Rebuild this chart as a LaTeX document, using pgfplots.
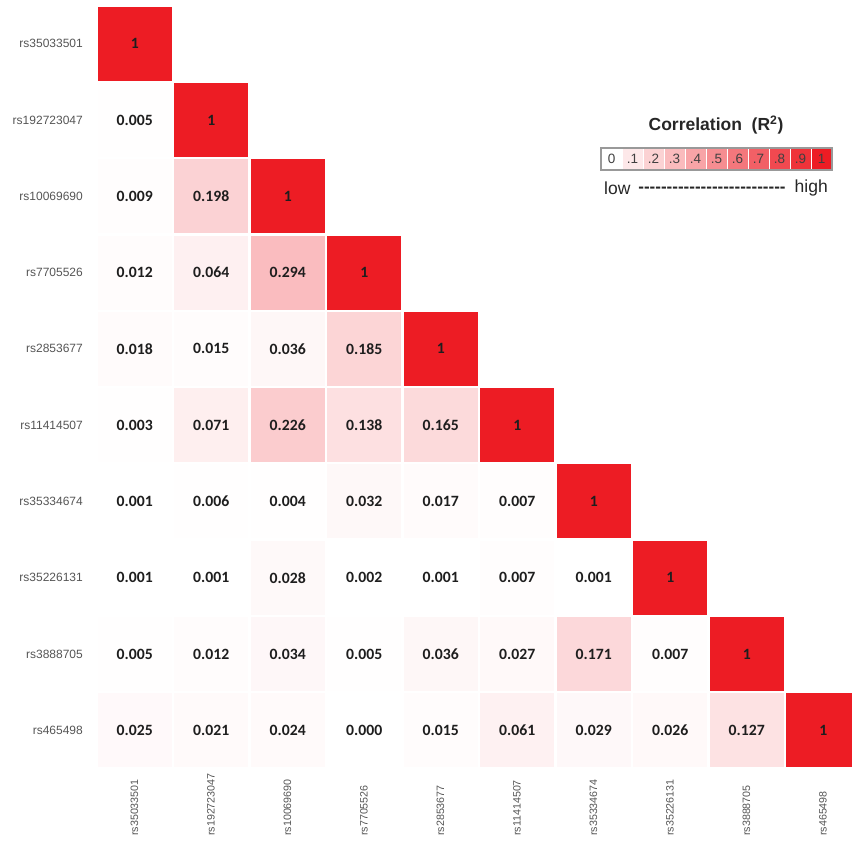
\documentclass[border=0pt]{standalone}
\usepackage{fontspec}
\setmainfont{Liberation Sans}
\newfontfamily\valfont{Carlito}
\usepackage{pgfplots}
\usepackage{pgfplotstable}
\pgfplotsset{compat=1.18}

\definecolor{ldred}{RGB}{237,28,36}
\definecolor{lblgray}{RGB}{85,85,85}
\definecolor{valtext}{RGB}{30,30,30}

% pairwise LD (R^2): col = first SNP, row = second SNP
\pgfplotstableread{
col row r2
0 1 0.005
0 2 0.009
1 2 0.198
0 3 0.012
1 3 0.064
2 3 0.294
0 4 0.018
1 4 0.015
2 4 0.036
3 4 0.185
0 5 0.003
1 5 0.071
2 5 0.226
3 5 0.138
4 5 0.165
0 6 0.001
1 6 0.006
2 6 0.004
3 6 0.032
4 6 0.017
5 6 0.007
0 7 0.001
1 7 0.001
2 7 0.028
3 7 0.002
4 7 0.001
5 7 0.007
6 7 0.001
0 8 0.005
1 8 0.012
2 8 0.034
3 8 0.005
4 8 0.036
5 8 0.027
6 8 0.171
7 8 0.007
0 9 0.025
1 9 0.021
2 9 0.024
3 9 0.000
4 9 0.015
5 9 0.061
6 9 0.029
7 9 0.026
8 9 0.127
}\ldpairs

% each SNP with itself
\pgfplotstableread{
col row r2
0 0 1
1 1 1
2 2 1
3 3 1
4 4 1
5 5 1
6 6 1
7 7 1
8 8 1
9 9 1
}\ldself

\pgfplotsset{
  % square cell, shaded white -> red by R^2
  ldcell/.style={scatter, only marks, mark=square*, mark size=36.5pt,
    visualization depends on={100*\thisrow{r2} \as \pct},
    scatter/@pre marker code/.code={%
      \pgfscope
      \colorlet{cellc}{ldred!\pct!white}%
      \pgfsetfillcolor{cellc}%
      \pgfsetstrokecolor{cellc}%
      \pgfsetlinewidth{0pt}},
    scatter/@post marker code/.code={\endpgfscope}},
  % value printed in the middle of each cell
  ldtext/.style={only marks, mark=none, point meta=explicit,
    nodes near coords style={anchor=center, text=valtext,
       font=\valfont\bfseries\fontsize{15.7}{18}\selectfont}},
}

\begin{document}
\begin{tikzpicture}
\useasboundingbox (0pt,0pt) rectangle (852pt,-846pt);

\begin{axis}[
  at={(96.5pt,-5.5pt)}, anchor=north west,
  scale only axis, width=765pt, height=763pt,
  xmin=-0.5, xmax=9.5, ymin=-0.5, ymax=9.5, y dir=reverse,
  axis line style={draw=none}, major tick length=0pt,
  xtick=\empty,
  ytick={0,...,9},
  yticklabels={rs35033501,rs192723047,rs10069690,rs7705526,rs2853677,
               rs11414507,rs35334674,rs35226131,rs3888705,rs465498},
  yticklabel style={font=\fontsize{12}{14}\selectfont, text=lblgray,
                    inner sep=0pt, xshift=-13.5pt},
  clip=false,
]
\addplot[ldcell] table[x=col, y=row] {\ldpairs};
\addplot[ldcell] table[x=col, y=row] {\ldself};
\addplot[ldtext,
  nodes near coords={\pgfmathprintnumber[fixed, fixed zerofill, precision=3,
                     assume math mode=true]{\pgfplotspointmeta}}]
  table[x=col, y=row, meta=r2] {\ldpairs};
\addplot[ldtext,
  nodes near coords={\pgfmathprintnumber[fixed, precision=0,
                     assume math mode=true]{\pgfplotspointmeta}}]
  table[x=col, y=row, meta=r2] {\ldself};
\end{axis}

% column labels, rotated, aligned at their start
\foreach \n [count=\k from 0] in {rs35033501,rs192723047,rs10069690,rs7705526,
    rs2853677,rs11414507,rs35334674,rs35226131,rs3888705,rs465498}
  \node[rotate=90, anchor=west, inner sep=0pt, text=lblgray,
        font=\fontsize{10.7}{13}\selectfont] at ({134.5pt+76.5pt*\k},-836pt) {\n};

% colour key
\node[font=\bfseries\fontsize{17.5}{20}\selectfont, text=black!85]
  at (716pt,-125pt) {Correlation\ \ (R\textsuperscript{2})};
\foreach \v [count=\k from 0, evaluate=\k as \pct using int(10*\k)] in
    {0,.1,.2,.3,.4,.5,.6,.7,.8,.9,1} {
  \path[fill=ldred!\pct!white, draw=white, line width=0.8pt]
    ({601pt+21pt*\k},-148pt) rectangle ++(21pt,-22pt);
  \node[font=\fontsize{13.5}{16}\selectfont, text=black!75]
    at ({611.5pt+21pt*\k},-159pt) {\v};
}
\draw[gray!80, line width=1.2pt] (601pt,-148pt) rectangle (832pt,-170pt);
\node[anchor=west, inner sep=0pt, font=\fontsize{17.5}{20}\selectfont, text=black!85]
  at (604pt,-188pt) {low};
\node[anchor=east, inner sep=0pt, font=\fontsize{17.5}{20}\selectfont, text=black!85]
  at (828pt,-188pt) {high};
\node[inner sep=0pt, font=\bfseries\fontsize{17}{20}\selectfont, text=black!85]
  at (712pt,-189.5pt) {\foreach \i in {1,...,26}{\mbox{-}}};
\end{tikzpicture}
\end{document}
